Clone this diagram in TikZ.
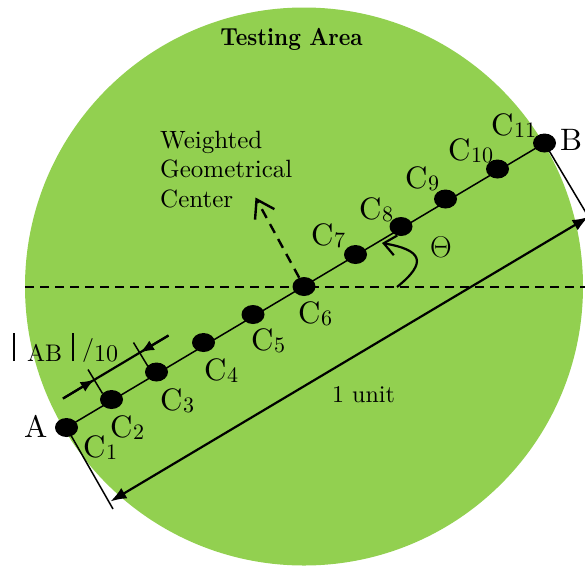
\RequirePackage{fix-cm}
\documentclass[tikz,border=0pt]{standalone}
\usepackage[no-math]{fontspec}
\setmainfont{lmroman10-regular.otf}[BoldFont=lmroman10-bold.otf]
\usetikzlibrary{arrows.meta,shapes.geometric}
\definecolor{areagreen}{HTML}{92D050}
\newcommand{\clab}[1]{C\kern0.5pt\raisebox{-2pt}{\fontsize{22}{22}\selectfont #1}}
\begin{document}
\begin{tikzpicture}[x=1pt,y=-1pt,
  dot/.style={ellipse,fill=black,minimum width=23pt,minimum height=19pt,inner sep=0pt},
  lbl/.style={anchor=base west,inner sep=0pt,font=\fontsize{31}{36}\selectfont},
  heavy/.style={line width=2.2pt},
  thinline/.style={line width=1.5pt},
  smalltip/.style={-{Latex[length=14pt,width=11pt]}}]
\useasboundingbox (0,0) rectangle (585,565);
\clip (0,0) rectangle (585,565);
% testing area
\fill[areagreen] (304,286.5) circle[radius=279pt];
\node[anchor=base,inner sep=0pt,font=\bfseries\fontsize{22}{26}\selectfont] (title) at (291.5,45) {\scalebox{1}[1.12]{Testing Area}};
% horizontal reference line
\coordinate (hl) at (25,287);
\coordinate (hr) at (590,287);
\draw[line width=2.5pt,dash pattern=on 9pt off 6pt] (hl) -- (hr);
% dots
\node[dot] (c1) at (66.5,427.5) {};
\node[dot] (c2) at (111.5,399.5) {};
\node[dot] (c3) at (156.5,372) {};
\node[dot] (c4) at (203.5,342.5) {};
\node[dot] (c5) at (253,314.5) {};
\node[dot] (c6) at (304,286.5) {};
\node[dot] (c7) at (355.5,254.5) {};
\node[dot] (c8) at (401,226.5) {};
\node[dot] (c9) at (445.5,199) {};
\node[dot] (c10) at (497.5,169) {};
\node[dot] (c11) at (544.5,143) {};
\draw[line width=1.5pt] (c1.center) -- (c11.center);
% labels
\node[lbl] (lA) at (24,437) {A};
\node[lbl] (lB) at (560,150) {B};
\node[lbl] (l1) at (83,457) {\clab{1}};
\node[lbl] (l2) at (110,437) {\clab{2}};
\node[lbl] (l3) at (160,410) {\clab{3}};
\node[lbl] (l4) at (204,380) {\clab{4}};
\node[lbl] (l5) at (251,350) {\clab{5}};
\node[lbl] (l6) at (298,323) {\clab{6}};
\node[lbl] (l7) at (311,245) {\clab{7}};
\node[lbl] (l8) at (359,219) {\clab{8}};
\node[lbl] (l9) at (405,188) {\clab{9}};
\node[lbl] (l10) at (448,160) {\clab{10}};
\node[lbl] (l11) at (491,135) {\clab{11}};
\node[lbl,font=\fontsize{30}{34}\selectfont] (ltheta) at (430,257) {$\Theta$};
% unit length dimension
\coordinate (eA) at (113,509);
\coordinate (eB) at (593.6,225.5);
\draw[thinline] (c1.center) -- (eA);
\draw[thinline] (c11.center) -- (eB);
\coordinate (uA) at (110.5,501.4);
\coordinate (uB) at (588.5,216.9);
\draw[heavy,{Latex[length=16pt,width=12pt]}-{Latex[length=16pt,width=12pt]}] (uA) -- (uB);
\node[anchor=base west,inner sep=0pt,font=\fontsize{24}{28}\selectfont] (unit) at (332,402) {1 unit};
% |AB|/10 dimension
\coordinate (q1) at (63,398.5);
\coordinate (q2) at (168.5,335.5);
\coordinate (k1) at (94.5,379.5);
\coordinate (k2) at (140,352.5);
\coordinate (t1a) at (102.5,393.5);
\coordinate (t1b) at (88,369.5);
\coordinate (t2a) at (148,366.5);
\coordinate (t2b) at (133.5,342.5);
\draw[heavy] (q1) -- (q2);
\draw[heavy,smalltip] (q1) -- (k1);
\draw[heavy,smalltip] (q2) -- (k2);
\draw[thinline] (t1a) -- (t1b);
\draw[thinline] (t2a) -- (t2b);
\node[anchor=base west,inner sep=0pt,font=\fontsize{24}{28}\selectfont] (abtxt) at (13.2,361) {\rule{1.6pt}{28pt}\kern12pt AB\kern10.4pt\rule{1.6pt}{28pt}\kern8.2pt\raisebox{5pt}{/}10};
% weighted geometrical center
\node[anchor=north west,align=left,inner sep=0pt,font=\fontsize{25}{29.5}\selectfont] (wgc) at (160,130.5) {Weighted\\Geometrical\\Center};
\coordinate (wtip) at (255.5,197.5);
\draw[line width=2.4pt,dash pattern=on 10pt off 7pt,-{Straight Barb[length=17pt,width=22pt]}] (c6) -- (wtip);
% angle arrow
\coordinate (angstart) at (397,287);
\coordinate (angtip) at (382,243);
\draw[heavy,-{Straight Barb[length=12pt,width=20pt]}] (angstart) .. controls (428,262) and (422,250) .. (angtip);
\end{tikzpicture}
\end{document}
